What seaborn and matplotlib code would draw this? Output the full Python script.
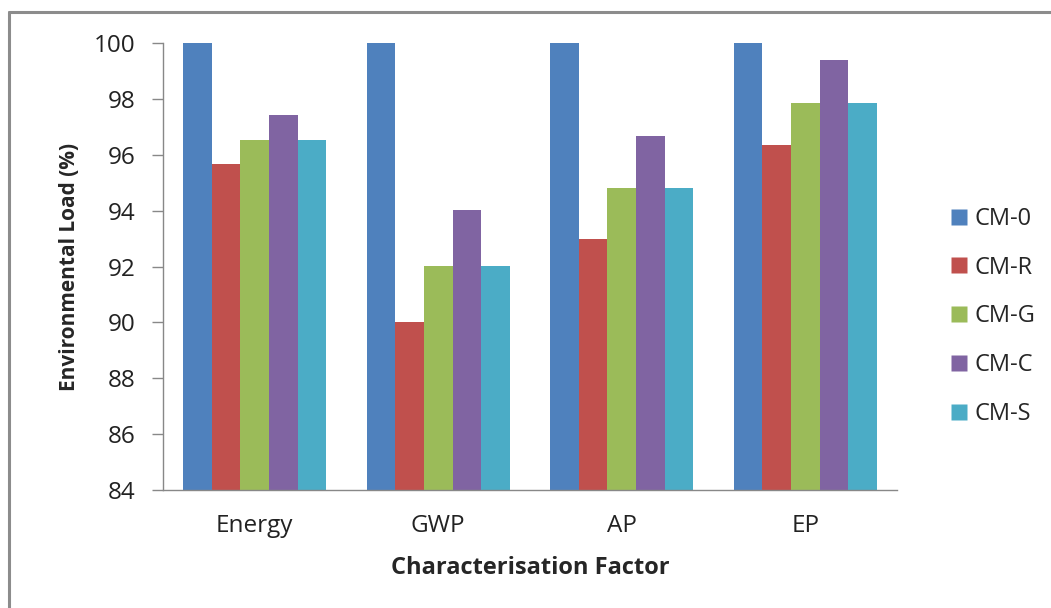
import matplotlib
matplotlib.use("Agg")
import matplotlib.pyplot as plt
import seaborn as sns
import pandas as pd
from matplotlib.lines import Line2D

categories = ["Energy", "GWP", "AP", "EP"]
series = ["CM-0", "CM-R", "CM-G", "CM-C", "CM-S"]
cm0 = [100, 100, 100, 100]
cmr = [95.68, 90.0, 92.98, 96.36]
cmg = [96.54, 92.02, 94.81, 97.87]
cmc = [97.41, 94.03, 96.68, 99.38]
cms = [96.54, 92.02, 94.81, 97.87]
colors = ["#4F81BD", "#C0504D", "#9BBB59", "#8064A2", "#4BACC6"]

rows = []
for s, vals in zip(series, [cm0, cmr, cmg, cmc, cms]):
    for c, v in zip(categories, vals):
        rows.append({"Factor": c, "Series": s, "Value": v})
df = pd.DataFrame(rows)

sns.set_theme(style="white")
plt.rcParams["font.family"] = ["Open Sans", "DejaVu Sans"]

fig = plt.figure(figsize=(10.51, 6.08), dpi=100)
ax = fig.add_axes([163/1051, 1-490/608, (897-163)/1051, (490-43)/608])

sns.barplot(data=df, x="Factor", y="Value", hue="Series", order=categories,
            hue_order=series, palette=colors, width=0.78, gap=0, ax=ax,
            edgecolor="none", linewidth=0, saturation=1, legend=False)

ax.set_ylim(84, 100)
ax.set_yticks(range(84, 101, 2))
ax.set_xlim(-0.5, 3.5)
for side in ["top", "right"]:
    ax.spines[side].set_visible(False)
for side in ["left", "bottom"]:
    ax.spines[side].set_color("#888888")
    ax.spines[side].set_linewidth(1.0)
ax.tick_params(axis="y", left=True, length=8, width=1, color="#888888",
               labelsize=17.5, pad=12, labelcolor="#222222")
ax.tick_params(axis="x", bottom=False, labelsize=17.5, pad=11, labelcolor="#222222")
ax.set_ylabel("Environmental Load (%)", fontsize=15, fontweight="bold", labelpad=10)
ax.set_xlabel("Characterisation Factor", fontsize=17, fontweight="bold", labelpad=13)

handles = [Line2D([0], [0], marker="s", linestyle="none", markersize=12,
                  markerfacecolor=c, markeredgecolor="none") for c in colors]
leg = fig.legend(handles, series, loc="upper left", bbox_to_anchor=(938/1051, 1-195/608),
                 frameon=False, fontsize=17, labelspacing=1.05, handletextpad=0.25,
                 handlelength=0.8, borderpad=0)

# outer chart frame
fig.add_artist(Line2D([9/1051, 1], [1-12/608, 1-12/608], color="#8c8c8c", linewidth=2.2))
fig.add_artist(Line2D([9/1051, 9/1051], [0, 1-12/608], color="#8c8c8c", linewidth=2.2))

fig.savefig("out.png", dpi=100)
